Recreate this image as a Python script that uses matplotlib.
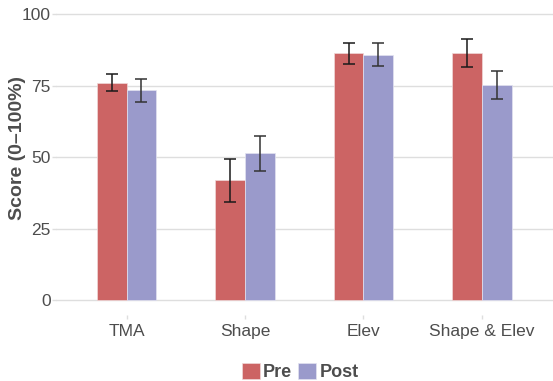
import matplotlib
matplotlib.use("Agg")
import matplotlib.pyplot as plt
import numpy as np
from matplotlib.patches import Patch

categories = ["TMA", "Shape", "Elev", "Shape & Elev"]
pre_values = [76.1, 42.0, 86.3, 86.4]
pre_err = [3.0, 7.5, 3.7, 4.9]
post_values = [73.4, 51.4, 85.8, 75.3]
post_err = [4.0, 6.2, 4.0, 4.9]
series_names = ["Pre", "Post"]
yticks = [0, 25, 50, 75, 100]

pre_color = "#CC6464"
post_color = "#9A9ACB"
text_gray = "#4D4D4D"
grid_gray = "#DEDEDE"

plt.rcParams['font.family'] = ['Liberation Sans', 'DejaVu Sans']

fig = plt.figure(figsize=(5.53, 3.81), dpi=100)
left_px = 55.5
ax = fig.add_axes([left_px/553, 1 - 314.5/381, (553-left_px)/553, 314.5/381])

x = np.arange(1, len(categories) + 1)
w = 0.25
ax.bar(x - w/2, pre_values, width=w, color=pre_color, edgecolor="#F0D8D8", linewidth=0.5, zorder=2)
ax.bar(x + w/2, post_values, width=w, color=post_color, edgecolor="#E2E2F0", linewidth=0.5, zorder=2)
ax.errorbar(x - w/2, pre_values, yerr=pre_err, fmt="none", ecolor="#1a1a1a", elinewidth=1.1, capsize=4.5, capthick=1.1, zorder=3)
ax.errorbar(x + w/2, post_values, yerr=post_err, fmt="none", ecolor="#333333", elinewidth=1.1, capsize=4.5, capthick=1.1, zorder=3)

ax.set_xlim(0.4, 4.6)
ax.set_ylim(-5, 105)
ax.set_yticks(yticks)
ax.set_yticklabels([str(t) for t in yticks])
ax.set_xticks(x)
ax.set_xticklabels(categories)
ax.yaxis.grid(True, color=grid_gray, linewidth=1.0, zorder=0)
ax.set_axisbelow(True)
for s in ax.spines.values():
    s.set_visible(False)
ax.tick_params(axis="y", colors=grid_gray, labelcolor=text_gray, labelsize=12.5, length=3, width=1, pad=0.5)
ax.tick_params(axis="x", colors=grid_gray, labelcolor=text_gray, labelsize=12.5, length=3, width=1, pad=4)
ax.set_ylabel("Score (0\u2013100%)", fontsize=14, fontweight="bold", color=text_gray)
ax.yaxis.set_label_coords((26 - left_px) / (553 - left_px), (314.5 - 148.5) / 314.5)

handles = [Patch(facecolor=pre_color, edgecolor="#F0D8D8", linewidth=0.5),
           Patch(facecolor=post_color, edgecolor="#E2E2F0", linewidth=0.5)]
leg = fig.legend(handles, series_names, loc="center", bbox_to_anchor=(300/553, 1 - 372/381),
                 ncol=2, frameon=False, handlelength=1.0, handleheight=1.0, handletextpad=0.2,
                 columnspacing=0.3, prop={"weight": "bold", "size": 13})
for t in leg.get_texts():
    t.set_color(text_gray)

fig.savefig("out.png", dpi=100)
